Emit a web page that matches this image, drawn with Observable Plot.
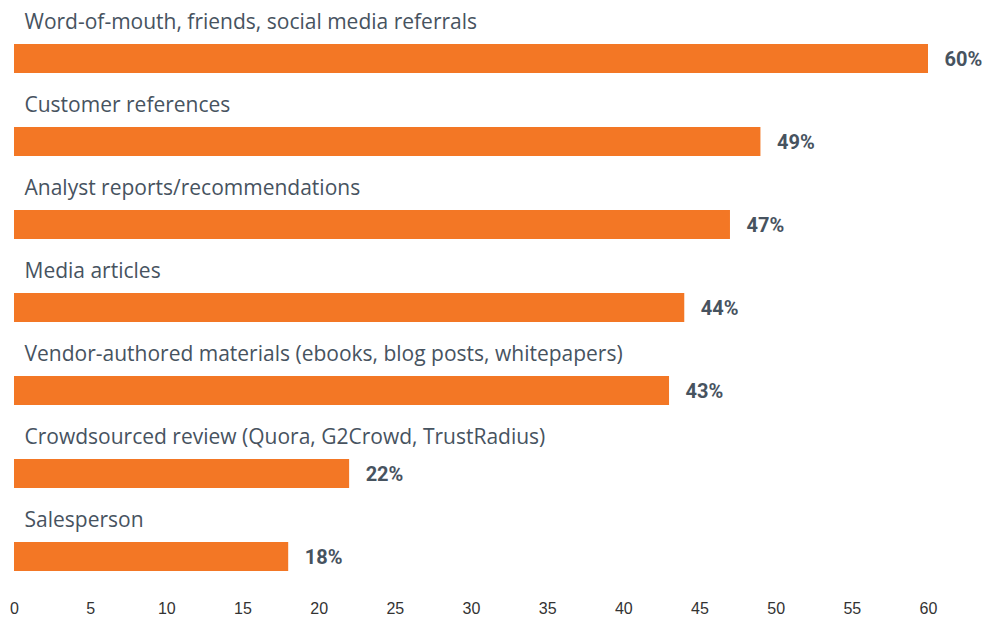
<!DOCTYPE html>
<html>
<head>
<meta charset="utf-8">
<script src="https://cdn.jsdelivr.net/npm/d3@7"></script>
<script src="https://cdn.jsdelivr.net/npm/@observablehq/plot@0.6"></script>
<style>
  html, body { margin: 0; padding: 0; background: #fff; }
  #chart { width: 986px; height: 617px; }
</style>
</head>
<body>
<div id="chart"></div>
<script>
const categories = [
  "Word-of-mouth, friends, social media referrals",
  "Customer references",
  "Analyst reports/recommendations",
  "Media articles",
  "Vendor-authored materials (ebooks, blog posts, whitepapers)",
  "Crowdsourced review (Quora, G2Crowd, TrustRadius)",
  "Salesperson"
];
const values = [60, 49, 47, 44, 43, 22, 18];
const xTicks = [0, 5, 10, 15, 20, 25, 30, 35, 40, 45, 50, 55, 60];

const data = categories.map((c, i) => ({category: c, value: values[i]}));

const chart = Plot.plot({
  width: 986,
  height: 617,
  marginLeft: 14,
  marginRight: 58,
  marginTop: 43,
  marginBottom: 45,
  style: {background: "#fff", overflow: "visible", fontSize: "16px", fontFamily: "Liberation Sans"},
  x: {domain: [0, 60], label: null},
  y: {domain: categories, paddingInner: 0.652, paddingOuter: 0, align: 0.5, axis: null},
  marks: [
    Plot.axisX(xTicks, {tickSize: 0, tickPadding: 30, fill: "#333", label: null}),
    Plot.barX(data, {x: "value", y: "category", fill: "#F37725"}),
    Plot.text(data, {
      x: 0, y: "category", text: "category",
      textAnchor: "start", dx: 10, dy: -37,
      fontSize: 21, fill: "#47535f", fontFamily: "Open Sans"
    }),
    Plot.text(data, {
      x: "value", y: "category", text: d => d.value + "%",
      textAnchor: "start", dx: 16, dy: 1,
      fontSize: 20, fontWeight: "bold", fill: "#47535f", fontFamily: "Roboto"
    })
  ]
});
document.getElementById("chart").appendChild(chart);
</script>
</body>
</html>
